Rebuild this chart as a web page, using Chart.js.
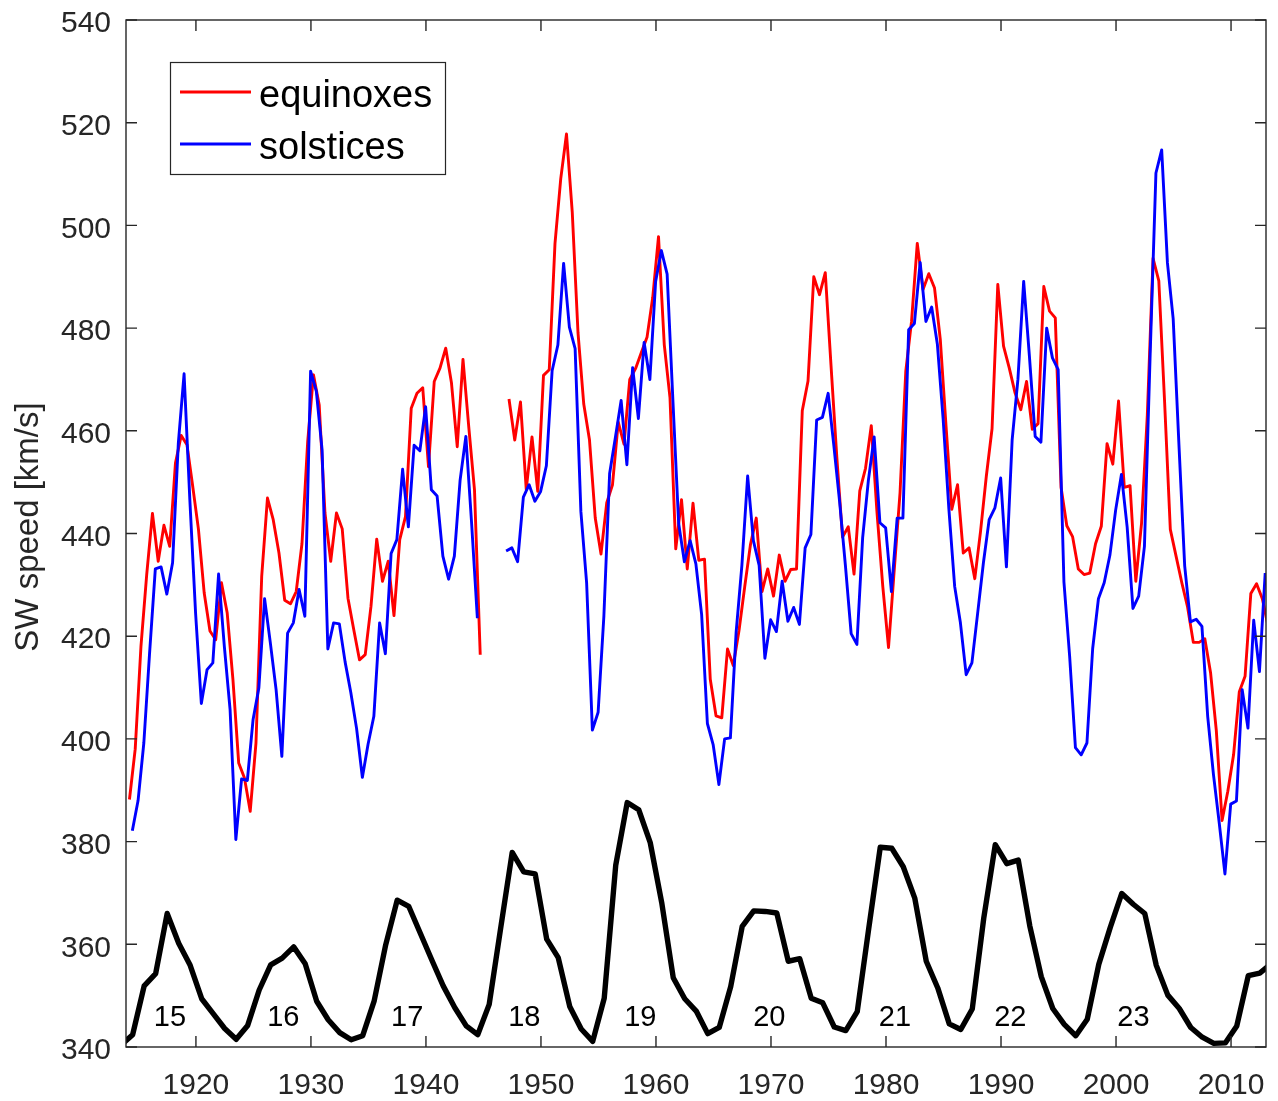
<!DOCTYPE html>
<html>
<head>
<meta charset="utf-8">
<title>SW speed at equinoxes and solstices</title>
<script src="https://cdn.jsdelivr.net/npm/chart.js@4.4.1/dist/chart.umd.min.js"></script>
<style>
  html, body { margin: 0; padding: 0; background: #fff; }
  #wrap { width: 1278px; height: 1101px; }
</style>
</head>
<body>
<div id="wrap"><canvas id="swChart" width="1278" height="1101"></canvas></div>
<script>
// Solar wind speed [km/s], two samples per year (equinoxes: Mar/Sep, solstices: Jun/Dec)
const equinoxStart1 = 1914.22;
const equinoxSpeed1 = [
  388.2, 398, 418, 432, 443.9, 434.6, 441.6, 437.5, 453.7, 459.1,
  457.3, 449.2, 440.8, 428.4, 421.0, 419.3, 430.4, 424.5, 411.5, 395.3,
  392.4, 385.9, 399.2, 431.7, 446.9, 442.7, 436.2, 427.0, 426.3, 428.7,
  438, 458, 470.9, 465, 444, 434.6, 444.0, 440.9, 427.4, 421.3,
  415.4, 416.4, 425.8, 438.9, 430.7, 434.6, 424.0, 438.8, 443.3, 464.4,
  467.3, 468.4, 453.0, 469.6, 472.2, 476.1, 469.3, 456.9, 473.9, 460.8,
  448.5, 416.4
];
const equinoxStart2 = 1947.22;
const equinoxSpeed2 = [
  466.2, 458.2, 465.6, 448.6, 458.8, 448.2, 470.8, 471.9, 496.5, 509.1,
  517.8, 502.6, 479.1, 465.2, 458.2, 443.0, 436.0, 446.0, 449.5, 461.7,
  457.4, 470.0, 472.1, 475.2, 478.2, 486.0, 497.8, 476.8, 466.4, 437.0,
  446.6, 433.1, 445.9, 434.8, 435.0, 411.6, 404.5, 404.1, 417.5, 414.3,
  421.1, 429.7, 437.9, 443.0, 428.7, 433.1, 427.8, 435.8, 430.7, 433.0,
  433.1, 463.9, 469.7, 490.0, 486.5, 490.8, 472.7, 455.0, 439.3, 441.3,
  432.1, 448.3, 452.7, 461.0, 444.0, 429.7, 417.8, 433.0, 447.9, 471.6,
  481.3, 496.5, 487.5, 490.6, 487.8, 477.8, 460.9, 444.7, 449.5, 436.2,
  437.2, 431.2, 440.4, 451.1, 460.4, 488.5, 476.5, 472.2, 467.4, 464.1,
  469.6, 460.3, 461.4, 488.1, 483.3, 482.0, 449.0, 441.5, 439.4, 433.1,
  432.0, 432.3, 438.0, 441.4, 457.5, 453.5, 465.8, 449.0, 449.3, 430.7,
  442.0, 463.0, 493.6, 489.2, 465.8, 440.8, 435.6, 430.4, 425.7, 418.8,
  418.8, 419.5, 412.9, 401.6, 384.1, 389.8, 396.9, 409.2, 412.2, 428.3,
  430.2, 427.3, 422
];
const solsticeStart1 = 1914.47;
const solsticeSpeed1 = [
  382.1, 388.0, 399.2, 416.7, 433.1, 433.5, 428.2, 434.3, 457.6, 471.1,
  446.6, 424.5, 406.9, 413.5, 414.8, 432.1, 418.0, 405.7, 380.4, 392.2,
  391.9, 403.8, 409.9, 427.3, 418.7, 409.6, 396.6, 420.6, 422.6, 429.1,
  423.9, 471.6, 467.7, 456.3, 417.5, 422.6, 422.4, 415, 409, 402,
  392.5, 399, 404.4, 422.6, 416.6, 436.1, 438.8, 452.5, 441.3, 457.2,
  456.1, 464.7, 448.5, 447.3, 435.6, 431.1, 435.6, 450.4, 458.9, 442.0,
  423.5
];
const solsticeStart2 = 1946.97;
const solsticeSpeed2 = [
  436.6, 437.2, 434.5, 447.1, 449.5, 446.3, 448.2, 453.2, 471.7, 476.7,
  492.6, 480.2, 476.0, 444.3, 430.4, 401.7, 405.2, 423.9, 451.7, 458.7,
  465.9, 453.4, 472.3, 462.4, 477.2, 470.0, 489.1, 495.1, 490.5, 466,
  442.0, 434.5, 438.6, 434.1, 424.2, 403.0, 398.9, 391.1, 400.0, 400.2,
  420.8, 433.8, 451.2, 438.6, 433.8, 415.7, 423.2, 420.9, 430.7, 422.9,
  425.6, 422.3, 437.2, 439.8, 462.1, 462.6, 467.3, 457.0, 446.1, 433.8,
  420.5, 418.4, 439.2, 450.4, 458.8, 442.1, 441.1, 428.7, 443.0, 443.0,
  479.7, 480.9, 492.8, 481.3, 484.1, 476.8, 462.2, 444.7, 429.7, 422.6,
  412.5, 414.8, 424.5, 434.3, 442.7, 445.0, 450.8, 433.5, 458.3, 470.0,
  489.1, 474.5, 458.9, 457.8, 480.0, 474.2, 471.9, 430.6, 416, 398.3,
  396.9, 399.2, 417.6, 427.3, 430.4, 435.8, 444.6, 451.5, 441.2, 425.4,
  427.8, 437.5, 475, 510.2, 514.7, 492.7, 481.8, 457.3, 433.7, 422.8,
  423.3, 421.9, 404.4, 393.1, 383.7, 373.7, 387.3, 387.9, 409.6, 402.1,
  423.1, 413.1, 432.3
];
const sampleStep = 0.5;

// Sunspot activity curve as drawn on the speed axis, yearly means
const sunspotStart = 1913.5;
const sunspotCurve = [
  340.4, 342.4, 351.9, 354.3, 366.0, 360.2, 355.9, 349.4, 346.5, 343.6,
  341.5, 344.2, 351.1, 356.0, 357.3, 359.5, 356.2, 348.9, 345.3, 342.8,
  341.4, 342.2, 349.0, 359.9, 368.6, 367.4, 362.2, 357.0, 351.9, 347.7,
  344.1, 342.4, 348.3, 363.2, 377.9, 374.1, 373.7, 361.0, 357.4, 347.9,
  343.5, 341.1, 349.5, 375.4, 387.6, 386.2, 379.8, 368.1, 353.5, 349.4,
  347.0, 342.6, 343.8, 351.8, 363.5, 366.5, 366.4, 366.1, 356.7, 357.2,
  349.5, 348.6, 343.9, 343.2, 346.9, 363.1, 378.9, 378.7, 375.1, 369.0,
  356.7, 351.5, 344.5, 343.4, 347.4, 365.1, 379.4, 375.7, 376.4, 363.6,
  353.7, 347.5, 344.4, 342.2, 345.4, 356.1, 363.3, 369.9, 367.8, 366.0,
  355.9, 350.1, 347.5, 343.8, 341.9, 340.7, 340.8, 344.1, 353.9, 354.4,
  356.2
];
const sunspotStep = 1;

// Solar cycle numbers written under the curve
const cycleLabels = ['15', '16', '17', '18', '19', '20', '21', '22', '23'];
const cycleYears = [1917.74, 1927.6, 1938.37, 1948.55, 1958.64, 1969.85, 1980.78, 1990.81, 2001.51];
const cycleLevel = 345.7;

const xTicks = [1920, 1930, 1940, 1950, 1960, 1970, 1980, 1990, 2000, 2010];
const yTicks = [340, 360, 380, 400, 420, 440, 460, 480, 500, 520, 540];
const xMin = 1913.92, xMax = 2013.04;

const legendItems = [
  { label: 'equinoxes', color: '#ff0000' },
  { label: 'solstices', color: '#0000ff' }
];

function toPoints(start, values, step) {
  return values.map((v, i) => ({ x: start + i * step, y: v }));
}

// join two segments with an empty point so the line breaks over the gap
function withGap(start1, part1, start2, part2) {
  const a = toPoints(start1, part1, sampleStep);
  const b = toPoints(start2, part2, sampleStep);
  const gapX = (a[a.length - 1].x + b[0].x) / 2;
  return a.concat([{ x: gapX, y: null }], b);
}

const FONT = "'Liberation Sans', Arial, Helvetica, sans-serif";
const AXIS_GREY = '#262626';

const framePlugin = {
  id: 'frame',
  afterDraw(chart) {
    const { ctx, chartArea: a, scales } = chart;
    const xs = scales.x, ys = scales.y;
    ctx.save();

    // axes box with inward ticks on all four sides
    ctx.strokeStyle = AXIS_GREY;
    ctx.lineWidth = 1.4;
    ctx.strokeRect(a.left, a.top, a.right - a.left, a.bottom - a.top);
    const tl = 11;
    ctx.beginPath();
    xTicks.forEach(t => {
      const px = xs.getPixelForValue(t);
      ctx.moveTo(px, a.bottom); ctx.lineTo(px, a.bottom - tl);
      ctx.moveTo(px, a.top); ctx.lineTo(px, a.top + tl);
    });
    yTicks.forEach(t => {
      const py = ys.getPixelForValue(t);
      ctx.moveTo(a.left, py); ctx.lineTo(a.left + tl, py);
      ctx.moveTo(a.right, py); ctx.lineTo(a.right - tl, py);
    });
    ctx.stroke();

    // cycle numbers
    ctx.fillStyle = '#000';
    ctx.font = '29px ' + FONT;
    ctx.textAlign = 'center';
    ctx.textBaseline = 'middle';
    cycleLabels.forEach((lab, i) => {
      ctx.fillText(lab, xs.getPixelForValue(cycleYears[i]), ys.getPixelForValue(cycleLevel));
    });

    // y axis title
    ctx.save();
    ctx.translate(29, 527);
    ctx.rotate(-Math.PI / 2);
    ctx.fillStyle = AXIS_GREY;
    ctx.font = '33px ' + FONT;
    ctx.fillText('SW speed [km/s]', 0, 0);
    ctx.restore();

    // legend box
    const bx = 170.5, by = 62.5, bw = 275, bh = 112;
    ctx.fillStyle = '#fff';
    ctx.fillRect(bx, by, bw, bh);
    ctx.strokeStyle = AXIS_GREY;
    ctx.lineWidth = 1.2;
    ctx.strokeRect(bx, by, bw, bh);
    ctx.font = '38px ' + FONT;
    ctx.textAlign = 'left';
    ctx.textBaseline = 'middle';
    legendItems.forEach((it, i) => {
      const ly = 92 + i * 52;
      ctx.strokeStyle = it.color;
      ctx.lineWidth = 2.9;
      ctx.beginPath();
      ctx.moveTo(180, ly); ctx.lineTo(251, ly);
      ctx.stroke();
      ctx.fillStyle = '#000';
      ctx.fillText(it.label, 259, ly + 5);
    });

    ctx.restore();
  }
};

document.addEventListener('DOMContentLoaded', () => {
  Chart.defaults.font.family = FONT;
  const ctx = document.getElementById('swChart').getContext('2d');
  new Chart(ctx, {
    type: 'line',
    data: {
      datasets: [
        {
          label: 'solstices',
          data: withGap(solsticeStart1, solsticeSpeed1, solsticeStart2, solsticeSpeed2),
          borderColor: '#0000ff',
          borderWidth: 2.9,
          order: 1
        },
        {
          label: 'equinoxes',
          data: withGap(equinoxStart1, equinoxSpeed1, equinoxStart2, equinoxSpeed2),
          borderColor: '#ff0000',
          borderWidth: 2.9,
          order: 2
        },
        {
          label: 'sunspots',
          data: toPoints(sunspotStart, sunspotCurve, sunspotStep),
          borderColor: '#000000',
          borderWidth: 5.4,
          order: 3
        }
      ]
    },
    options: {
      responsive: false,
      animation: false,
      spanGaps: false,
      layout: { padding: { top: 20, right: 12, left: 0, bottom: 0 } },
      elements: {
        point: { radius: 0 },
        line: { tension: 0, borderJoinStyle: 'round', fill: false }
      },
      plugins: { legend: { display: false }, tooltip: { enabled: false } },
      scales: {
        x: {
          type: 'linear',
          min: xMin,
          max: xMax,
          afterBuildTicks: s => { s.ticks = xTicks.map(v => ({ value: v })); },
          afterFit: s => {
            s.height = 54;
            s.paddingLeft = 0; s.paddingRight = 0;
          },
          grid: { display: false, drawTicks: false },
          border: { display: false },
          ticks: {
            color: AXIS_GREY,
            font: { size: 30 },
            padding: 21,
            maxRotation: 0,
            callback: v => String(v)
          }
        },
        y: {
          min: 340,
          max: 540,
          afterBuildTicks: s => { s.ticks = yTicks.map(v => ({ value: v })); },
          afterFit: s => {
            s.width = 126;
            s.paddingTop = 0; s.paddingBottom = 0;
          },
          grid: { display: false, drawTicks: false },
          border: { display: false },
          ticks: {
            color: AXIS_GREY,
            font: { size: 30 },
            padding: 15,
            labelOffset: 4,
            callback: v => String(v)
          }
        }
      }
    },
    plugins: [framePlugin]
  });
});
</script>
</body>
</html>
